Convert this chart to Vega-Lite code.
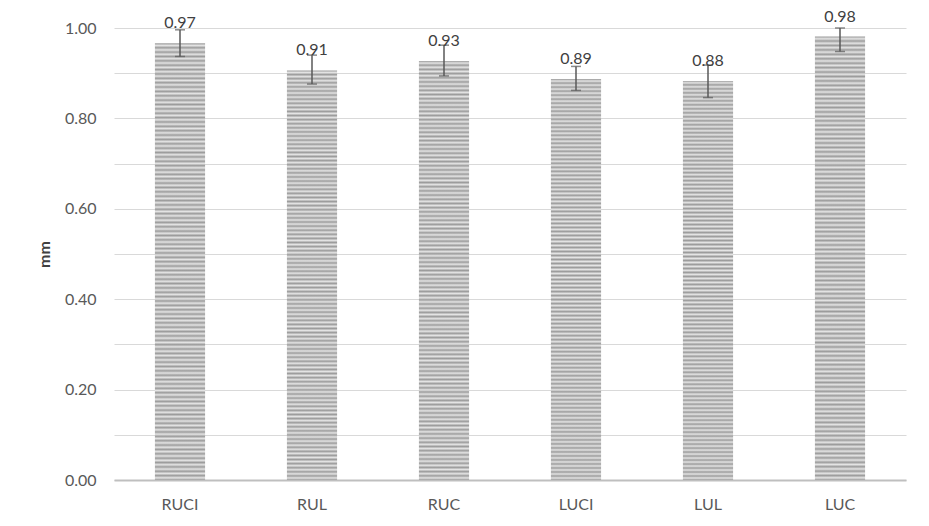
{
  "$schema": "https://vega.github.io/schema/vega-lite/v6.json",
  "width": 792,
  "height": 452,
  "autosize": {"type": "none"},
  "padding": {"left": 114, "top": 28, "right": 23, "bottom": 46},
  "background": "white",
  "config": {"view": {"stroke": null}, "font": "Lato"},
  "data": {"values": [
    {"site": "RUCI", "value": 0.966, "lo": 0.937, "hi": 0.996},
    {"site": "RUL", "value": 0.906, "lo": 0.876, "hi": 0.940},
    {"site": "RUC", "value": 0.927, "lo": 0.894, "hi": 0.962},
    {"site": "LUCI", "value": 0.887, "lo": 0.862, "hi": 0.915},
    {"site": "LUL", "value": 0.883, "lo": 0.846, "hi": 0.918},
    {"site": "LUC", "value": 0.981, "lo": 0.948, "hi": 1.0}
  ]},
  "encoding": {
    "x": {
      "field": "site", "type": "nominal", "sort": null,
      "scale": {"paddingInner": 0.62, "paddingOuter": 0.31},
      "axis": {"title": null, "labelAngle": 0, "ticks": false, "labelPadding": 16, "labelFontSize": 16, "labelColor": "#595959", "domainColor": "#bfbfbf", "domainWidth": 2}
    }
  },
  "layer": [
    {
      "mark": {"type": "bar", "fill": {"gradient": "linear", "x1": 0, "y1": 0, "x2": 0, "y2": 1, "stops": [
        {"offset":0,"color":"#9c9c9c"},{"offset":0.005,"color":"#e4e4e4"},{"offset":0.01,"color":"#9c9c9c"},{"offset":0.015,"color":"#e4e4e4"},{"offset":0.02,"color":"#9c9c9c"},{"offset":0.025,"color":"#e4e4e4"},{"offset":0.03,"color":"#9c9c9c"},{"offset":0.035,"color":"#e4e4e4"},{"offset":0.04,"color":"#9c9c9c"},{"offset":0.045,"color":"#e4e4e4"},
        {"offset":0.05,"color":"#9c9c9c"},{"offset":0.055,"color":"#e4e4e4"},{"offset":0.06,"color":"#9c9c9c"},{"offset":0.065,"color":"#e4e4e4"},{"offset":0.07,"color":"#9c9c9c"},{"offset":0.075,"color":"#e4e4e4"},{"offset":0.08,"color":"#9c9c9c"},{"offset":0.085,"color":"#e4e4e4"},{"offset":0.09,"color":"#9c9c9c"},{"offset":0.095,"color":"#e4e4e4"},
        {"offset":0.1,"color":"#9c9c9c"},{"offset":0.105,"color":"#e4e4e4"},{"offset":0.11,"color":"#9c9c9c"},{"offset":0.115,"color":"#e4e4e4"},{"offset":0.12,"color":"#9c9c9c"},{"offset":0.125,"color":"#e4e4e4"},{"offset":0.13,"color":"#9c9c9c"},{"offset":0.135,"color":"#e4e4e4"},{"offset":0.14,"color":"#9c9c9c"},{"offset":0.145,"color":"#e4e4e4"},
        {"offset":0.15,"color":"#9c9c9c"},{"offset":0.155,"color":"#e4e4e4"},{"offset":0.16,"color":"#9c9c9c"},{"offset":0.165,"color":"#e4e4e4"},{"offset":0.17,"color":"#9c9c9c"},{"offset":0.175,"color":"#e4e4e4"},{"offset":0.18,"color":"#9c9c9c"},{"offset":0.185,"color":"#e4e4e4"},{"offset":0.19,"color":"#9c9c9c"},{"offset":0.195,"color":"#e4e4e4"},
        {"offset":0.2,"color":"#9c9c9c"},{"offset":0.205,"color":"#e4e4e4"},{"offset":0.21,"color":"#9c9c9c"},{"offset":0.215,"color":"#e4e4e4"},{"offset":0.22,"color":"#9c9c9c"},{"offset":0.225,"color":"#e4e4e4"},{"offset":0.23,"color":"#9c9c9c"},{"offset":0.235,"color":"#e4e4e4"},{"offset":0.24,"color":"#9c9c9c"},{"offset":0.245,"color":"#e4e4e4"},
        {"offset":0.25,"color":"#9c9c9c"},{"offset":0.255,"color":"#e4e4e4"},{"offset":0.26,"color":"#9c9c9c"},{"offset":0.265,"color":"#e4e4e4"},{"offset":0.27,"color":"#9c9c9c"},{"offset":0.275,"color":"#e4e4e4"},{"offset":0.28,"color":"#9c9c9c"},{"offset":0.285,"color":"#e4e4e4"},{"offset":0.29,"color":"#9c9c9c"},{"offset":0.295,"color":"#e4e4e4"},
        {"offset":0.3,"color":"#9c9c9c"},{"offset":0.305,"color":"#e4e4e4"},{"offset":0.31,"color":"#9c9c9c"},{"offset":0.315,"color":"#e4e4e4"},{"offset":0.32,"color":"#9c9c9c"},{"offset":0.325,"color":"#e4e4e4"},{"offset":0.33,"color":"#9c9c9c"},{"offset":0.335,"color":"#e4e4e4"},{"offset":0.34,"color":"#9c9c9c"},{"offset":0.345,"color":"#e4e4e4"},
        {"offset":0.35,"color":"#9c9c9c"},{"offset":0.355,"color":"#e4e4e4"},{"offset":0.36,"color":"#9c9c9c"},{"offset":0.365,"color":"#e4e4e4"},{"offset":0.37,"color":"#9c9c9c"},{"offset":0.375,"color":"#e4e4e4"},{"offset":0.38,"color":"#9c9c9c"},{"offset":0.385,"color":"#e4e4e4"},{"offset":0.39,"color":"#9c9c9c"},{"offset":0.395,"color":"#e4e4e4"},
        {"offset":0.4,"color":"#9c9c9c"},{"offset":0.405,"color":"#e4e4e4"},{"offset":0.41,"color":"#9c9c9c"},{"offset":0.415,"color":"#e4e4e4"},{"offset":0.42,"color":"#9c9c9c"},{"offset":0.425,"color":"#e4e4e4"},{"offset":0.43,"color":"#9c9c9c"},{"offset":0.435,"color":"#e4e4e4"},{"offset":0.44,"color":"#9c9c9c"},{"offset":0.445,"color":"#e4e4e4"},
        {"offset":0.45,"color":"#9c9c9c"},{"offset":0.455,"color":"#e4e4e4"},{"offset":0.46,"color":"#9c9c9c"},{"offset":0.465,"color":"#e4e4e4"},{"offset":0.47,"color":"#9c9c9c"},{"offset":0.475,"color":"#e4e4e4"},{"offset":0.48,"color":"#9c9c9c"},{"offset":0.485,"color":"#e4e4e4"},{"offset":0.49,"color":"#9c9c9c"},{"offset":0.495,"color":"#e4e4e4"},
        {"offset":0.5,"color":"#9c9c9c"},{"offset":0.505,"color":"#e4e4e4"},{"offset":0.51,"color":"#9c9c9c"},{"offset":0.515,"color":"#e4e4e4"},{"offset":0.52,"color":"#9c9c9c"},{"offset":0.525,"color":"#e4e4e4"},{"offset":0.53,"color":"#9c9c9c"},{"offset":0.535,"color":"#e4e4e4"},{"offset":0.54,"color":"#9c9c9c"},{"offset":0.545,"color":"#e4e4e4"},
        {"offset":0.55,"color":"#9c9c9c"},{"offset":0.555,"color":"#e4e4e4"},{"offset":0.56,"color":"#9c9c9c"},{"offset":0.565,"color":"#e4e4e4"},{"offset":0.57,"color":"#9c9c9c"},{"offset":0.575,"color":"#e4e4e4"},{"offset":0.58,"color":"#9c9c9c"},{"offset":0.585,"color":"#e4e4e4"},{"offset":0.59,"color":"#9c9c9c"},{"offset":0.595,"color":"#e4e4e4"},
        {"offset":0.6,"color":"#9c9c9c"},{"offset":0.605,"color":"#e4e4e4"},{"offset":0.61,"color":"#9c9c9c"},{"offset":0.615,"color":"#e4e4e4"},{"offset":0.62,"color":"#9c9c9c"},{"offset":0.625,"color":"#e4e4e4"},{"offset":0.63,"color":"#9c9c9c"},{"offset":0.635,"color":"#e4e4e4"},{"offset":0.64,"color":"#9c9c9c"},{"offset":0.645,"color":"#e4e4e4"},
        {"offset":0.65,"color":"#9c9c9c"},{"offset":0.655,"color":"#e4e4e4"},{"offset":0.66,"color":"#9c9c9c"},{"offset":0.665,"color":"#e4e4e4"},{"offset":0.67,"color":"#9c9c9c"},{"offset":0.675,"color":"#e4e4e4"},{"offset":0.68,"color":"#9c9c9c"},{"offset":0.685,"color":"#e4e4e4"},{"offset":0.69,"color":"#9c9c9c"},{"offset":0.695,"color":"#e4e4e4"},
        {"offset":0.7,"color":"#9c9c9c"},{"offset":0.705,"color":"#e4e4e4"},{"offset":0.71,"color":"#9c9c9c"},{"offset":0.715,"color":"#e4e4e4"},{"offset":0.72,"color":"#9c9c9c"},{"offset":0.725,"color":"#e4e4e4"},{"offset":0.73,"color":"#9c9c9c"},{"offset":0.735,"color":"#e4e4e4"},{"offset":0.74,"color":"#9c9c9c"},{"offset":0.745,"color":"#e4e4e4"},
        {"offset":0.75,"color":"#9c9c9c"},{"offset":0.755,"color":"#e4e4e4"},{"offset":0.76,"color":"#9c9c9c"},{"offset":0.765,"color":"#e4e4e4"},{"offset":0.77,"color":"#9c9c9c"},{"offset":0.775,"color":"#e4e4e4"},{"offset":0.78,"color":"#9c9c9c"},{"offset":0.785,"color":"#e4e4e4"},{"offset":0.79,"color":"#9c9c9c"},{"offset":0.795,"color":"#e4e4e4"},
        {"offset":0.8,"color":"#9c9c9c"},{"offset":0.805,"color":"#e4e4e4"},{"offset":0.81,"color":"#9c9c9c"},{"offset":0.815,"color":"#e4e4e4"},{"offset":0.82,"color":"#9c9c9c"},{"offset":0.825,"color":"#e4e4e4"},{"offset":0.83,"color":"#9c9c9c"},{"offset":0.835,"color":"#e4e4e4"},{"offset":0.84,"color":"#9c9c9c"},{"offset":0.845,"color":"#e4e4e4"},
        {"offset":0.85,"color":"#9c9c9c"},{"offset":0.855,"color":"#e4e4e4"},{"offset":0.86,"color":"#9c9c9c"},{"offset":0.865,"color":"#e4e4e4"},{"offset":0.87,"color":"#9c9c9c"},{"offset":0.875,"color":"#e4e4e4"},{"offset":0.88,"color":"#9c9c9c"},{"offset":0.885,"color":"#e4e4e4"},{"offset":0.89,"color":"#9c9c9c"},{"offset":0.895,"color":"#e4e4e4"},
        {"offset":0.9,"color":"#9c9c9c"},{"offset":0.905,"color":"#e4e4e4"},{"offset":0.91,"color":"#9c9c9c"},{"offset":0.915,"color":"#e4e4e4"},{"offset":0.92,"color":"#9c9c9c"},{"offset":0.925,"color":"#e4e4e4"},{"offset":0.93,"color":"#9c9c9c"},{"offset":0.935,"color":"#e4e4e4"},{"offset":0.94,"color":"#9c9c9c"},{"offset":0.945,"color":"#e4e4e4"},
        {"offset":0.95,"color":"#9c9c9c"},{"offset":0.955,"color":"#e4e4e4"},{"offset":0.96,"color":"#9c9c9c"},{"offset":0.965,"color":"#e4e4e4"},{"offset":0.97,"color":"#9c9c9c"},{"offset":0.975,"color":"#e4e4e4"},{"offset":0.98,"color":"#9c9c9c"},{"offset":0.985,"color":"#e4e4e4"},{"offset":0.99,"color":"#9c9c9c"},{"offset":0.995,"color":"#e4e4e4"},
        {"offset":1,"color":"#9c9c9c"}
      ]}},
      "encoding": {
        "y": {
          "field": "value", "type": "quantitative",
          "scale": {"domain": [0, 1], "nice": false},
          "axis": {
            "values": [0, 0.1, 0.2, 0.3, 0.4, 0.5, 0.6, 0.7, 0.8, 0.9, 1.0],
            "labelExpr": "round(datum.value * 10) % 2 == 0 ? format(datum.value, '.2f') : ''",
            "ticks": false, "domain": false,
            "gridColor": "#d9d9d9", "gridWidth": 1,
            "labelPadding": 18, "labelFontSize": 16, "labelColor": "#595959",
            "title": "mm", "titleFontSize": 16, "titleFontWeight": "bold", "titleColor": "#404040", "titlePadding": 12
          }
        }
      }
    },
    {
      "mark": {"type": "rule", "color": "#595959", "strokeWidth": 1.5},
      "encoding": {
        "y": {"field": "lo", "type": "quantitative"},
        "y2": {"field": "hi"}
      }
    },
    {
      "mark": {"type": "tick", "color": "#595959", "thickness": 1.5, "size": 10},
      "encoding": {"y": {"field": "hi", "type": "quantitative"}}
    },
    {
      "mark": {"type": "tick", "color": "#595959", "thickness": 1.5, "size": 10},
      "encoding": {"y": {"field": "lo", "type": "quantitative"}}
    },
    {
      "mark": {"type": "text", "baseline": "middle", "dy": -20, "fontSize": 16, "color": "#404040"},
      "encoding": {
        "y": {"field": "value", "type": "quantitative"},
        "text": {"field": "value", "type": "quantitative", "format": ".2f"}
      }
    }
  ]
}
